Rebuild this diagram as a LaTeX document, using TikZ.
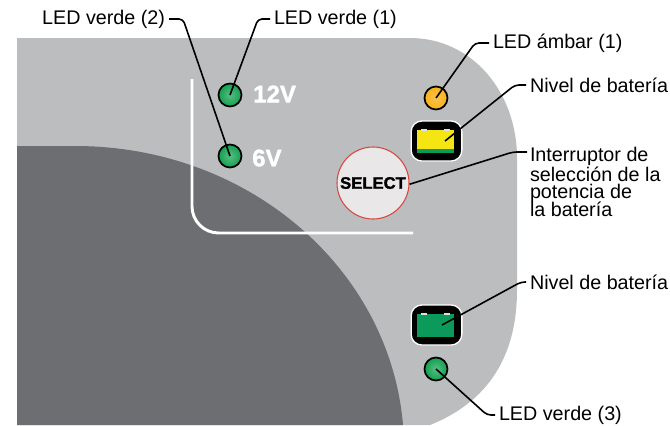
\documentclass[tikz,border=0pt]{standalone}
\usepackage{fontspec}
\setmainfont{Liberation Sans}
\newfontfamily\heavyfont[FakeBold=1.6]{Liberation Sans Bold}
\definecolor{panelgray}{HTML}{BBBDBF}
\definecolor{darkgray}{HTML}{6D6E71}
\definecolor{ledgreen}{HTML}{12A04F}
\definecolor{ledamber}{HTML}{F8B017}
\definecolor{battyellow}{HTML}{F5E512}
\definecolor{battgreen}{HTML}{0B9A5A}
\definecolor{selectfill}{HTML}{E9E7E7}
\definecolor{selectred}{HTML}{D8473F}
\tikzset{
  callout/.style={inner sep=3pt, outer sep=0pt, font=\fontsize{14.8}{13}\selectfont},
  led/.style={circle, draw=black, line width=1.3pt, minimum size=23*0.75pt, inner sep=0pt},
  battcase/.style={draw=white, fill=black, line width=1pt, rounded corners=8pt, minimum width=38pt, minimum height=30pt, inner sep=0pt},
  leader/.style={line width=1.2pt, black, line join=round, rounded corners=3pt},
  volt/.style={white, inner sep=0pt, font=\fontsize{18}{18}\heavyfont\selectfont},
  terminal/.style={fill=#1, minimum width=4pt, minimum height=1.5pt, inner sep=0pt}
}
\begin{document}
\begin{tikzpicture}[x=0.75pt,y=-0.75pt]
  \useasboundingbox (0,0) rectangle (670,425);

  % Panel and dark lobe
  \fill[panelgray] (17,38) -- (410,38) .. controls (472,38) and (517,92) .. (517,158)
    -- (517,290) .. controls (517,365) and (480,405) .. (430,425) -- (17,425) -- cycle;
  \fill[darkgray] (17,146) -- (75,146) .. controls (250,146) and (390,270) .. (403,425) -- (17,425) -- cycle;

  % White bracket
  \draw[white, line width=2.2pt, rounded corners=20pt] (192,79) -- (192,233) -- (413,233);

  % LEDs
  \node[led, shading=radial, inner color=ledgreen!70!white, outer color=ledgreen] (ledTwelve) at (230,95) {};
  \node[led, shading=radial, inner color=ledgreen!70!white, outer color=ledgreen] (ledSix) at (230,156) {};
  \node[led, shading=radial, inner color=ledamber!75!white, outer color=ledamber] (ledAmber) at (436,98) {};
  \node[led, shading=radial, inner color=ledgreen!70!white, outer color=ledgreen] (ledBottom) at (436,369) {};
  \node[volt, anchor=west] (textTwelve) at (253,94) {12V};
  \node[volt, anchor=west] (textSix) at (252,158) {6V};

  % Select button
  \node[circle, draw=selectred, fill=selectfill, line width=0.8pt, minimum size=54pt, inner sep=0pt,
    font=\fontsize{12.5}{12.5}\heavyfont\selectfont] (btnSelect) at (373,183) {SELECT};

  % Battery windows
  \node[battcase] (battTop) at (436.5,141) {};
  \node[fill=battyellow, minimum width=27.5pt, minimum height=17pt, inner sep=0pt] (fillTop) at (435.5,141.5) {};
  \node[fill=battgreen, minimum width=27.5pt, minimum height=3pt, inner sep=0pt] (stripTop) at (435.5,151) {};
  \node[terminal=panelgray!50!white] (termTopA) at (424,130) {};
  \node[terminal=panelgray!50!white] (termTopB) at (447,130) {};
  \node[battcase] (battLow) at (436.5,325) {};
  \node[fill=battgreen, minimum width=27.5pt, minimum height=17pt, inner sep=0pt] (fillLow) at (435.5,325.5) {};
  \node[terminal=panelgray!50!white] (termLowA) at (424,314) {};
  \node[terminal=panelgray!50!white] (termLowB) at (447,314) {};

  % Labels
  \node[callout, anchor=east] (lblVerdeTwo) at (169,19) {LED verde (2)};
  \node[callout, anchor=west] (lblVerdeOne) at (270,19) {LED verde (1)};
  \node[callout, anchor=west] (lblAmber) at (489,43) {LED ámbar (1)};
  \node[callout, anchor=west] (lblBattTop) at (526,85) {Nivel de batería};
  \node[callout, anchor=north west, align=left] (lblSwitch) at (526,143) {Interruptor de\\selección de la\\potencia de\\[-1.5pt]la batería};
  \node[callout, anchor=west] (lblBattLow) at (526,282) {Nivel de batería};
  \node[callout, anchor=west] (lblVerdeBottom) at (495,415) {LED verde (3)};

  % Leaders
  \coordinate (endSwitch) at (527,152);
  \coordinate (tipBattTop) at (445,141);
  \coordinate (tipBattLow) at (442,325);
  \coordinate (tipSwitch) at (btnSelect.-2);
  \draw[leader] (lblVerdeTwo.east) -- (183,19) -- (ledSix.center);
  \draw[leader] (lblVerdeOne.west) -- (258,19) -- (ledTwelve.center);
  \draw[leader] (lblAmber.west) -- (475,43) -- (ledAmber.center);
  \draw[leader] (lblBattTop.west) -- (515,85) -- (tipBattTop);
  \draw[leader] (endSwitch) -- (513,152) -- (tipSwitch);
  \draw[leader] (lblBattLow.west) -- (521,282) -- (tipBattLow);
  \draw[leader] (lblVerdeBottom.west) -- (487,415) -- (ledBottom.center);
\end{tikzpicture}
\end{document}
